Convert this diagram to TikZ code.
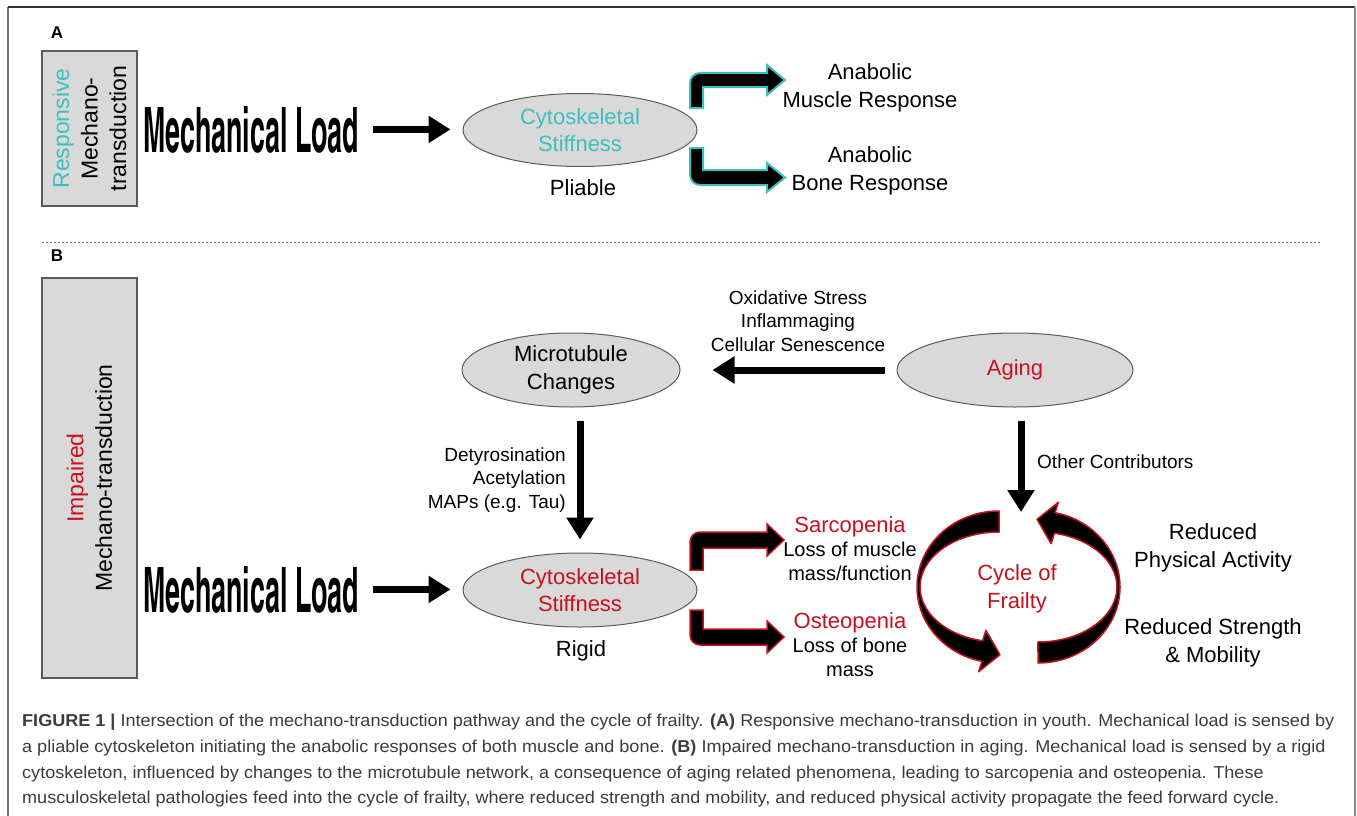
\documentclass[tikz,border=0pt]{standalone}
\usepackage{fontspec}
\usepackage{graphicx}
\setmainfont{Liberation Sans}
\newfontfamily\mlfont{texgyreheroscn-bold.otf}
\newfontfamily\capfont[FakeStretch=1.05]{Liberation Sans}
\usetikzlibrary{arrows.meta,shapes.geometric}
\definecolor{tealc}{RGB}{62,190,190}
\definecolor{redc}{RGB}{200,16,30}
\definecolor{fillg}{RGB}{217,217,217}
\definecolor{edgeg}{RGB}{90,90,90}
\definecolor{capc}{RGB}{60,60,60}
\tikzset{
 txt/.style={inner sep=0pt, align=center, font=\fontsize{22}{27.5}\selectfont},
 smalltxt/.style={inner sep=0pt, font=\fontsize{19}{23.5}\selectfont},
 sidebox/.style={draw=edgeg, fill=fillg, line width=1.5pt, rotate=90, align=center, inner sep=0pt, font=\fontsize{23}{28.5}\selectfont},
 oval/.style={ellipse, draw=edgeg, fill=fillg, line width=1pt, inner sep=0pt, align=center, font=\fontsize{22}{27.5}\selectfont},
 bigarrow/.style={line width=7pt, -{Triangle[length=22pt,width=26pt]}},
 bendA/.style={fill=black, draw=tealc, line width=2pt},
 bendB/.style={fill=black, draw=redc, line width=1.5pt},
 cyclearc/.style={fill=black, draw=redc, line width=1.5pt, line join=round},
 capline/.style={anchor=base west, inner sep=0pt, text=capc, font=\capfont\fontsize{17.2}{20}\selectfont},
 mlstyle/.style={anchor=base west, inner sep=0pt},
 panel/.style={inner sep=0pt, font=\bfseries\fontsize{17}{20}\selectfont},
}
\begin{document}
\begin{tikzpicture}[x=1pt,y=-1pt]
\useasboundingbox (0,0) rectangle (1357,816);
\fill[white] (0,0) rectangle (1357,816);
% frame
\draw[black!55, line width=1.5pt] (8,7) -- (8,816);
\draw[black!80, line width=1.5pt] (8,7) -- (1355,7);
\draw[black!45, line width=2.5pt] (1355,7) -- (1355,816);

% ---------- Panel A ----------
\node[panel] (lA) at (57,33) {A};
\node[sidebox, minimum width=155pt, minimum height=95pt] (boxA) at (89.5,128.5) {\textcolor{tealc}{Responsive}\\Mechano-\\transduction};
\node[mlstyle] (mlA) at (143,152) {\resizebox{216pt}{46pt}{\mlfont Mechanical Load}};
\node[oval, minimum width=234pt, minimum height=73pt, text=tealc] (ellA) at (580,130) {Cytoskeletal\\Stiffness};
\node[txt] (plA) at (583,188) {Pliable};
\draw[bigarrow, shorten <=14pt, shorten >=12pt] (mlA.east) -- (mlA.east -| ellA.west);

\filldraw[bendA] (690,108) -- (690,83) arc[start angle=180, end angle=270, radius=10] -- (767,73) -- (767,65) -- (785,80) -- (767,95) -- (767,87) -- (703,87) -- (703,108) -- cycle;
\filldraw[bendA] (690,148) -- (690,175) arc[start angle=180, end angle=90, radius=10] -- (767,185) -- (767,192) -- (785,177.5) -- (767,163) -- (767,170) -- (703,170) -- (703,148) -- cycle;
\node[txt] (muscle) at (870,88) {Anabolic\\Muscle Response};
\node[txt] (bone) at (870,171) {Anabolic\\Bone Response};

% separator
\draw[black!55, line width=1pt, dash pattern=on 2pt off 2pt] (42,242) -- (1322,242);

% ---------- Panel B ----------
\node[panel] (lB) at (57,256) {B};
\node[sidebox, minimum width=400pt, minimum height=95pt] (boxB) at (89.5,478) {\textcolor{redc}{Impaired}\\Mechano-transduction};
\node[mlstyle] (mlB) at (143,612) {\resizebox{216pt}{46pt}{\mlfont Mechanical Load}};
\node[oval, minimum width=234pt, minimum height=74pt, text=redc] (ellB) at (580,590) {Cytoskeletal\\Stiffness};
\node[txt] (rigid) at (581,651) {Rigid};
\draw[bigarrow, shorten <=14pt, shorten >=12pt] (mlB.east) -- (mlB.east -| ellB.west);

\node[oval, minimum width=218pt, minimum height=74pt] (mt) at (571,370) {Microtubule\\Changes};
\node[oval, minimum width=236pt, minimum height=74pt, text=redc] (aging) at (1015,370) {Aging};
\node[smalltxt, align=center] (ox) at (798,321) {Oxidative Stress\\Inflammaging\\Cellular Senescence};
\draw[bigarrow, shorten <=12pt, shorten >=32pt] (aging.west) -- (mt.east);

\node[smalltxt, align=right, anchor=east] (dety) at (566,480) {Detyrosination\\Acetylation\\MAPs (e.g. Tau)};
\draw[bigarrow, shorten <=13pt, shorten >=13pt] (mt.south -| ellB.north) -- (ellB.north);

\coordinate (cycTop) at (1021,512);
\draw[bigarrow, shorten <=13pt] (aging.south -| cycTop) -- (cycTop);
\node[smalltxt, anchor=west] (other) at (1037,462) {Other Contributors};

\filldraw[bendB] (690,570) -- (690,542) arc[start angle=180, end angle=270, radius=10] -- (767,532) -- (767,524) -- (784,540) -- (767,556) -- (767,548) -- (703,548) -- (703,570) -- cycle;
\filldraw[bendB] (690,610) -- (690,635) arc[start angle=180, end angle=90, radius=10] -- (767,645) -- (767,653) -- (784,637) -- (767,621) -- (767,629) -- (703,629) -- (703,610) -- cycle;

\node[inner sep=0pt, align=center, font=\fontsize{20}{24}\selectfont] (sarc) at (850,549) {{\fontsize{22}{24}\selectfont\textcolor{redc}{Sarcopenia}}\\Loss of muscle\\mass/function};
\node[inner sep=0pt, align=center, font=\fontsize{20}{24}\selectfont] (osteo) at (850,645) {{\fontsize{22}{24}\selectfont\textcolor{redc}{Osteopenia}}\\Loss of bone\\mass};

% cycle of frailty
\filldraw[cyclearc] (999,511) arc[start angle=270, end angle=102, x radius=82, y radius=76] -- (978.7,671.7) -- (1000,654.7) -- (985.9,630.3) -- (982.6,640.8) arc[start angle=102, end angle=270, x radius=79, y radius=55] -- cycle;
\filldraw[cyclearc] (1038,663) arc[start angle=90, end angle=-78, x radius=82, y radius=76] -- (1058.3,502.3) -- (1037,519.3) -- (1051.1,543.7) -- (1054.4,533.2) arc[start angle=-78, end angle=90, x radius=79, y radius=55] -- cycle;
\node[txt, text=redc] (cyc) at (1017,589) {Cycle of\\Frailty};
\node[txt] (rpa) at (1213,548) {Reduced\\Physical Activity};
\node[txt] (rsm) at (1213,643) {Reduced Strength\\\& Mobility};

% caption
\node[capline] (c1) at (22,726) {\textbf{FIGURE 1 |} Intersection of the mechano-transduction pathway and the cycle of frailty. \textbf{(A)} Responsive mechano-transduction in youth. Mechanical load is sensed by};
\node[capline] (c2) at (22,752) {a pliable cytoskeleton initiating the anabolic responses of both muscle and bone. \textbf{(B)} Impaired mechano-transduction in aging. Mechanical load is sensed by a rigid};
\node[capline] (c3) at (22,778) {cytoskeleton, influenced by changes to the microtubule network, a consequence of aging related phenomena, leading to sarcopenia and osteopenia. These};
\node[capline] (c4) at (22,803) {musculoskeletal pathologies feed into the cycle of frailty, where reduced strength and mobility, and reduced physical activity propagate the feed forward cycle.};
\end{tikzpicture}
\end{document}
